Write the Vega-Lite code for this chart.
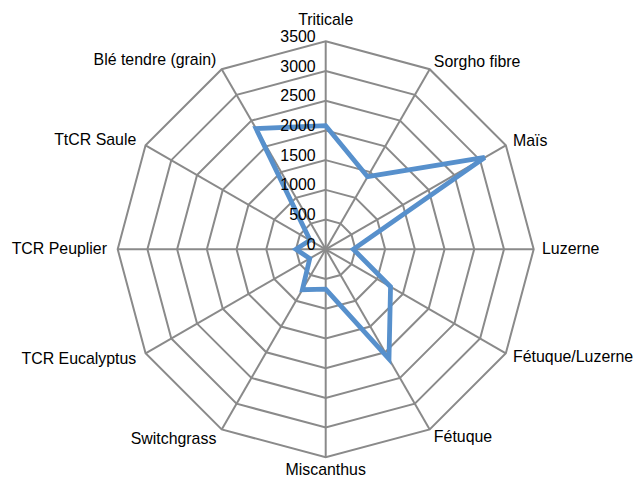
{
  "$schema": "https://vega.github.io/schema/vega-lite/v6.json",
  "width": 636,
  "height": 477,
  "autosize": "none",
  "padding": 0,
  "background": "white",
  "config": {"view": {"stroke": null}, "text": {"font": "Liberation Sans", "fontSize": 15.9, "color": "#000000"}},
  "datasets": {
    "crops": [
      {"cat": "Triticale", "k": 0, "value": 2080},
      {"cat": "Sorgho fibre", "k": 1, "value": 1410},
      {"cat": "Maïs", "k": 2, "value": 3090},
      {"cat": "Luzerne", "k": 3, "value": 465},
      {"cat": "Fétuque/Luzerne", "k": 4, "value": 1260},
      {"cat": "Fétuque", "k": 5, "value": 2130},
      {"cat": "Miscanthus", "k": 6, "value": 670},
      {"cat": "Switchgrass", "k": 7, "value": 785},
      {"cat": "TCR Eucalyptus", "k": 8, "value": 310},
      {"cat": "TCR Peuplier", "k": 9, "value": 500},
      {"cat": "TtCR Saule", "k": 10, "value": 305},
      {"cat": "Blé tendre (grain)", "k": 11, "value": 2345}
    ],
    "rings": [
      {"ring": 500, "k": [0,1,2,3,4,5,6,7,8,9,10,11]},
      {"ring": 1000, "k": [0,1,2,3,4,5,6,7,8,9,10,11]},
      {"ring": 1500, "k": [0,1,2,3,4,5,6,7,8,9,10,11]},
      {"ring": 2000, "k": [0,1,2,3,4,5,6,7,8,9,10,11]},
      {"ring": 2500, "k": [0,1,2,3,4,5,6,7,8,9,10,11]},
      {"ring": 3000, "k": [0,1,2,3,4,5,6,7,8,9,10,11]},
      {"ring": 3500, "k": [0,1,2,3,4,5,6,7,8,9,10,11]}
    ],
    "ticks": [
      {"tick": 0}, {"tick": 500}, {"tick": 1000}, {"tick": 1500},
      {"tick": 2000}, {"tick": 2500}, {"tick": 3000}, {"tick": 3500}
    ]
  },
  "layer": [
    {
      "data": {"name": "rings"},
      "transform": [
        {"flatten": ["k"]},
        {"calculate": "datum.k*PI/6", "as": "theta"},
        {"calculate": "datum.ring*sin(datum.theta)", "as": "px"},
        {"calculate": "datum.ring*cos(datum.theta)", "as": "py"}
      ],
      "mark": {"type": "line", "interpolate": "linear-closed", "color": "#8a8a8a", "strokeWidth": 2},
      "encoding": {
        "x": {"field": "px", "type": "quantitative", "scale": {"domain": [-5480.5, 5221.4], "nice": false, "zero": false}, "axis": null},
        "y": {"field": "py", "type": "quantitative", "scale": {"domain": [-3831.5, 4195], "nice": false, "zero": false}, "axis": null},
        "detail": {"field": "ring", "type": "nominal"},
        "order": {"field": "k", "type": "quantitative"}
      }
    },
    {
      "data": {"name": "crops"},
      "transform": [
        {"calculate": "datum.k*PI/6", "as": "theta"},
        {"calculate": "3500*sin(datum.theta)", "as": "ex"},
        {"calculate": "3500*cos(datum.theta)", "as": "ey"}
      ],
      "mark": {"type": "rule", "color": "#8a8a8a", "strokeWidth": 2},
      "encoding": {
        "x": {"field": "ex", "type": "quantitative", "scale": {"domain": [-5480.5, 5221.4], "nice": false, "zero": false}, "axis": null},
        "y": {"field": "ey", "type": "quantitative", "scale": {"domain": [-3831.5, 4195], "nice": false, "zero": false}, "axis": null},
        "x2": {"datum": 0},
        "y2": {"datum": 0}
      }
    },
    {
      "data": {"name": "crops"},
      "transform": [
        {"calculate": "datum.k*PI/6", "as": "theta"},
        {"calculate": "datum.value*sin(datum.theta)", "as": "px"},
        {"calculate": "datum.value*cos(datum.theta)", "as": "py"}
      ],
      "mark": {"type": "line", "interpolate": "linear-closed", "color": "#5790cc", "strokeWidth": 4.8, "strokeJoin": "miter"},
      "encoding": {
        "x": {"field": "px", "type": "quantitative", "scale": {"domain": [-5480.5, 5221.4], "nice": false, "zero": false}, "axis": null},
        "y": {"field": "py", "type": "quantitative", "scale": {"domain": [-3831.5, 4195], "nice": false, "zero": false}, "axis": null},
        "order": {"field": "k", "type": "quantitative"}
      }
    },
    {
      "data": {"name": "ticks"},
      "transform": [{"calculate": "0", "as": "zx"}],
      "mark": {"type": "text", "align": "right", "baseline": "alphabetic", "dx": -10, "dy": 0.5},
      "encoding": {
        "x": {"field": "zx", "type": "quantitative", "scale": {"domain": [-5480.5, 5221.4], "nice": false, "zero": false}, "axis": null},
        "y": {"field": "tick", "type": "quantitative", "scale": {"domain": [-3831.5, 4195], "nice": false, "zero": false}, "axis": null},
        "text": {"field": "tick", "type": "quantitative", "format": "d"}
      }
    },
    {
      "data": {"name": "crops"},
      "transform": [
        {"filter": "datum.k >= 1 && datum.k <= 5"},
        {"calculate": "datum.k*PI/6", "as": "theta"},
        {"calculate": "3640*sin(datum.theta)", "as": "lx"},
        {"calculate": "3640*cos(datum.theta)", "as": "ly"}
      ],
      "mark": {"type": "text", "align": "left", "baseline": "middle"},
      "encoding": {
        "x": {"field": "lx", "type": "quantitative", "scale": {"domain": [-5480.5, 5221.4], "nice": false, "zero": false}, "axis": null},
        "y": {"field": "ly", "type": "quantitative", "scale": {"domain": [-3831.5, 4195], "nice": false, "zero": false}, "axis": null},
        "text": {"field": "cat", "type": "nominal"}
      }
    },
    {
      "data": {"name": "crops"},
      "transform": [
        {"filter": "datum.k >= 7"},
        {"calculate": "datum.k*PI/6", "as": "theta"},
        {"calculate": "3680*sin(datum.theta)", "as": "lx"},
        {"calculate": "3680*cos(datum.theta)", "as": "ly"}
      ],
      "mark": {"type": "text", "align": "right", "baseline": "middle"},
      "encoding": {
        "x": {"field": "lx", "type": "quantitative", "scale": {"domain": [-5480.5, 5221.4], "nice": false, "zero": false}, "axis": null},
        "y": {"field": "ly", "type": "quantitative", "scale": {"domain": [-3831.5, 4195], "nice": false, "zero": false}, "axis": null},
        "text": {"field": "cat", "type": "nominal"}
      }
    },
    {
      "data": {"name": "crops"},
      "transform": [
        {"filter": "datum.k == 0 || datum.k == 6"},
        {"calculate": "datum.k*PI/6", "as": "theta"},
        {"calculate": "3500*sin(datum.theta)", "as": "lx"},
        {"calculate": "datum.k == 0 ? 3500 + 280 : -3500 - 300", "as": "ly"}
      ],
      "mark": {"type": "text", "align": "center", "baseline": "alphabetic"},
      "encoding": {
        "x": {"field": "lx", "type": "quantitative", "scale": {"domain": [-5480.5, 5221.4], "nice": false, "zero": false}, "axis": null},
        "y": {"field": "ly", "type": "quantitative", "scale": {"domain": [-3831.5, 4195], "nice": false, "zero": false}, "axis": null},
        "text": {"field": "cat", "type": "nominal"}
      }
    }
  ]
}
